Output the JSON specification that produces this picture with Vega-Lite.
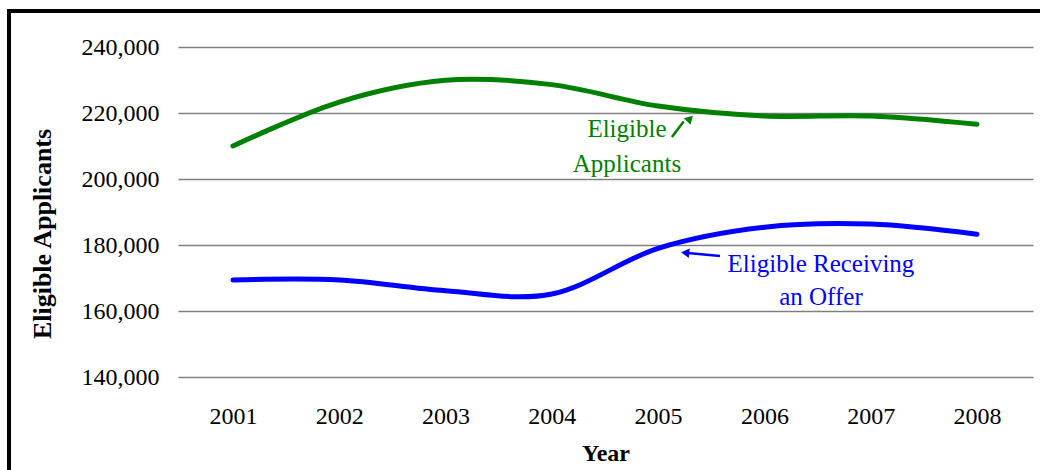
{
  "$schema": "https://vega.github.io/schema/vega-lite/v6.json",
  "width": 855,
  "height": 330,
  "autosize": {"type": "none"},
  "padding": {"left": 178, "top": 47, "right": 7, "bottom": 93},
  "background": "white",
  "config": {
    "font": "Liberation Serif",
    "text": {"font": "Liberation Serif"},
    "view": {"stroke": null}
  },
  "datasets": {
    "main": [
      {"year": 2001, "series": "Eligible Applicants", "value": 210000},
      {"year": 2002, "series": "Eligible Applicants", "value": 223300},
      {"year": 2003, "series": "Eligible Applicants", "value": 229900},
      {"year": 2004, "series": "Eligible Applicants", "value": 228600},
      {"year": 2005, "series": "Eligible Applicants", "value": 222100},
      {"year": 2006, "series": "Eligible Applicants", "value": 219100},
      {"year": 2007, "series": "Eligible Applicants", "value": 219100},
      {"year": 2008, "series": "Eligible Applicants", "value": 216600},
      {"year": 2001, "series": "Eligible Receiving an Offer", "value": 169400},
      {"year": 2002, "series": "Eligible Receiving an Offer", "value": 169400},
      {"year": 2003, "series": "Eligible Receiving an Offer", "value": 166150},
      {"year": 2004, "series": "Eligible Receiving an Offer", "value": 165150},
      {"year": 2005, "series": "Eligible Receiving an Offer", "value": 179000},
      {"year": 2006, "series": "Eligible Receiving an Offer", "value": 185400},
      {"year": 2007, "series": "Eligible Receiving an Offer", "value": 186350},
      {"year": 2008, "series": "Eligible Receiving an Offer", "value": 183250}
    ]
  },
  "layer": [
    {
      "data": {"name": "main"},
      "mark": {"type": "line", "interpolate": "cardinal", "strokeWidth": 5, "strokeCap": "round", "strokeJoin": "round"},
      "encoding": {
        "x": {
          "field": "year", "type": "quantitative",
          "scale": {"domain": [2000.483, 2008.527], "nice": false, "zero": false},
          "axis": {
            "values": [2001, 2002, 2003, 2004, 2005, 2006, 2007, 2008],
            "format": "d", "grid": false, "domain": false, "ticks": false, "tickSize": 0,
            "labelFont": "Liberation Serif", "labelFontSize": 24, "labelColor": "black", "labelBaseline": "alphabetic", "labelPadding": 46,
            "labelFlush": false,
            "title": "Year", "titleFont": "Liberation Serif", "titleFontSize": 24, "titleFontWeight": "bold", "titleColor": "black",
            "titleX": 427.5, "titleY": 83, "titleBaseline": "alphabetic", "titleAlign": "center"
          }
        },
        "y": {
          "field": "value", "type": "quantitative",
          "scale": {"domain": [140000, 240000], "nice": false, "zero": false},
          "axis": {
            "values": [140000, 160000, 180000, 200000, 220000, 240000],
            "format": ",d", "grid": true, "gridColor": "#808080", "gridWidth": 1.5, "gridOpacity": 1,
            "domain": false, "ticks": false, "tickSize": 0,
            "labelFont": "Liberation Serif", "labelFontSize": 24, "labelColor": "black", "labelPadding": 19,
            "title": "Eligible Applicants", "titleFont": "Liberation Serif", "titleFontSize": 26, "titleFontWeight": "bold", "titleColor": "black",
            "titleX": -136, "titleY": 186.5, "titleAngle": -90, "titleAlign": "center", "titleBaseline": "middle"
          }
        },
        "color": {
          "field": "series", "type": "nominal",
          "scale": {"domain": ["Eligible Applicants", "Eligible Receiving an Offer"], "range": ["#008000", "#0000ff"]},
          "legend": null
        }
      }
    },
    {
      "data": {"values": [{}]},
      "mark": {"type": "text", "text": ["Eligible", "Applicants"], "font": "Liberation Serif", "fontSize": 25, "color": "#008000", "align": "center", "baseline": "alphabetic", "lineHeight": 35},
      "encoding": {"x": {"datum": 2004.707, "type": "quantitative"}, "y": {"datum": 212818, "type": "quantitative"}}
    },
    {
      "data": {"values": [{}]},
      "mark": {"type": "text", "text": ["Eligible Receiving", "an Offer"], "font": "Liberation Serif", "fontSize": 25, "color": "#0000ff", "align": "center", "baseline": "alphabetic", "lineHeight": 33.5},
      "encoding": {"x": {"datum": 2006.532, "type": "quantitative"}, "y": {"datum": 171909, "type": "quantitative"}}
    },
    {
      "data": {"values": [{}]},
      "mark": {"type": "rule", "color": "#008000", "strokeWidth": 2.5},
      "encoding": {
        "x": {"datum": 2005.13, "type": "quantitative"}, "y": {"datum": 212727, "type": "quantitative"},
        "x2": {"datum": 2005.24}, "y2": {"datum": 217400}
      }
    },
    {
      "data": {"values": [{}]},
      "mark": {"type": "point", "shape": "triangle-up", "filled": true, "color": "#008000", "size": 90, "angle": 45, "opacity": 1},
      "encoding": {"x": {"datum": 2005.30, "type": "quantitative"}, "y": {"datum": 218300, "type": "quantitative"}}
    },
    {
      "data": {"values": [{}]},
      "mark": {"type": "rule", "color": "#0000ff", "strokeWidth": 2.5},
      "encoding": {
        "x": {"datum": 2005.582, "type": "quantitative"}, "y": {"datum": 176667, "type": "quantitative"},
        "x2": {"datum": 2005.28}, "y2": {"datum": 177550}
      }
    },
    {
      "data": {"values": [{}]},
      "mark": {"type": "point", "shape": "triangle-up", "filled": true, "color": "#0000ff", "size": 90, "angle": 276, "opacity": 1},
      "encoding": {"x": {"datum": 2005.255, "type": "quantitative"}, "y": {"datum": 177650, "type": "quantitative"}}
    },
    {
      "data": {"values": [{}]},
      "mark": {"type": "rule", "color": "black", "strokeWidth": 4},
      "encoding": {
        "x": {"datum": 1998.874, "type": "quantitative"}, "y": {"datum": 250909, "type": "quantitative"},
        "x2": {"datum": 2011}
      }
    },
    {
      "data": {"values": [{}]},
      "mark": {"type": "rule", "color": "black", "strokeWidth": 4},
      "encoding": {
        "x": {"datum": 1998.893, "type": "quantitative"}, "y": {"datum": 251500, "type": "quantitative"},
        "y2": {"datum": 100000}
      }
    }
  ]
}
